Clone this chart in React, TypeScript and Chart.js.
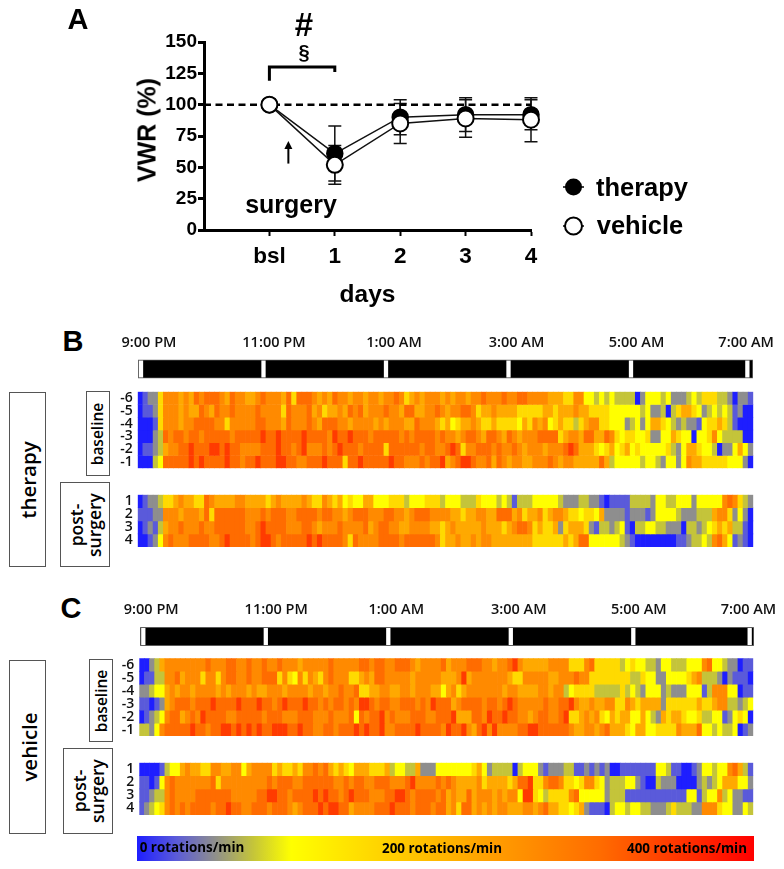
import React, { useEffect, useRef } from "react";
import { Chart, registerables } from "chart.js";

Chart.register(...registerables);

// ---------- Panel A data ----------
const dayLabels = ["bsl", "1", "2", "3", "4"];
const dayPositions = [0, 1, 2, 3, 4];
const therapyMeans = [100, 61, 90, 92, 92];
const therapyErrors = [0, 22, 14, 13.5, 12];
const vehicleMeans = [100, 52, 85, 89, 88];
const vehicleErrors = [0, 15.5, 16, 15, 17.5];
const referenceX = [-1, 4];
const referenceY = [100, 100];
const bracketX = [0, 0, 1, 1];
const bracketY = [119, 130, 130, 126];

// ---------- Heat map data ----------
// Each digit is one 5-minute bin; levelValues turns it into rotations/min.
const levelValues = [0, 25, 50, 75, 100, 150, 215, 258, 300, 345];
const baselineLabels = ["-6", "-5", "-4", "-3", "-2", "-1"];
const postLabels = ["1", "2", "3", "4"];

const therapyBaseline = [
  "0122577767 6878887687 7667877768 5888767687 7677677677 8756767776 7677677877 7877887777 6665577443 4343333024 4434222343 5553320221",
  "0112577767 6687687787 7778777758 7778675667 6878677787 7688667787 6778875667 6666555556 6566676655 5544444434 2230356654 2343431200",
  "0001577767 7888877577 7778877768 7778768887 7677776767 7766877765 6456676556 5555465767 4565535677 5544423424 6654323221 4556531000",
  "0002387887 8878888878 8888988988 8898888798 8988878888 8787888878 7767887688 7687677788 8856776886 6875455445 2244654404 4574333300",
  "0112367788 9888998988 7777888988 7897778789 8887888858 8888878877 8985778887 8778767776 7778986665 4564564544 4445324665 4430224642",
  "0003488888 9898888988 7889888998 8778889888 5889888889 8877787889 6789987786 8767766777 8767766666 8634444434 4324424766 5555544420",
];
const therapyPost = [
  "0122355676 6558766667 7666656766 6676557656 4544664445 5534445553 4443335444 3431333444 4432223322 1011113333 2443344424 4444787532",
  "1112277767 7768588888 8777878887 7888878877 6788877788 7767888777 7665667766 8886756675 6776554554 6222212221 2444432223 3367752420",
  "0121367787 7787788888 8778988887 7788767778 7777867887 7667777665 6766666766 6567887565 5625666521 3323410334 4332220332 3456563310",
  "0012478777 8888778988 8878998788 8889898888 7587777888 8788888875 6676676776 6666666555 5556568844 4444321000 0000011233 4378641210",
];
const vehicleBaseline = [
  "0023677777 7778777887 7877877877 7677777877 7778878877 8887677778 6777888776 7789766666 7777555785 5555345443 3244333444 7844322011",
  "0113377867 7757757887 7877888575 4757657877 7556768877 7776777776 6679677777 7765577777 6677787755 5555553354 4224444567 3332021110",
  "2234467677 6777767677 7676677767 7776776778 7785566776 6776777664 6756777777 7677666677 6773455553 3333534324 4423222444 1377744011",
  "1101267888 7888988889 8889887898 8898878788 7879987887 7888787988 8678888788 7898777778 7788976676 6775576566 6625555556 5567733234",
  "0123478867 8798888778 8888788877 7888777877 7848788978 7778887788 8966688798 8988776788 7789556767 5465664464 3265665445 3344124540",
  "3324788888 9887889989 8989889998 8988778878 8898988977 8888988887 9889768979 7777889988 8888766776 7866654664 4555576668 4434334012",
];
const vehiclePost = [
  "0000134467 6655776677 4677775655 6577878656 5466655563 4433622244 4444456423 3330344421 2223311212 1200111111 1443110012 4434478631",
  "1101478777 7777857777 7777787888 7788888877 8788778887 7789777787 8766667566 6656889557 8875545775 4233344210 0322200002 3234666442",
  "1123378777 7888888877 7778899887 8888989887 8988877788 9987888878 6766867776 7677499543 5555784444 4233311111 1111111441 3447342211",
  "1234578787 8888788988 7788878887 6788898998 8677778889 8887888788 6758867676 7766677678 6655456211 1034434433 2223533322 7775442243",
];

// ---------- Time bar data ----------
const timeLabels = ["9:00 PM", "11:00 PM", "1:00 AM", "3:00 AM", "5:00 AM", "7:00 AM"];
const timeLabelHours = [0.13, 2.17, 4.13, 6.13, 8.09, 9.88];
const timeMarkerHours = [0, 2, 4, 6, 8, 9.9];

// ---------- Colour scale data ----------
const scaleValues = [0, 25, 50, 75, 100, 200, 300, 400];
const scaleColors = ["#1e1eff", "#5a5ada", "#8e8e8e", "#c4c43a", "#ffff00", "#ffb400", "#ff6c00", "#ff0000"];
const scaleTexts = ["0 rotations/min", "200 rotations/min", "400 rotations/min"];

const SANS = "'Liberation Sans', Arial, sans-serif";
const OPEN = "'Open Sans', sans-serif";

function hexToRgb(h: string) {
  return [1, 3, 5].map((i) => parseInt(h.slice(i, i + 2), 16));
}

function valueColor(v: number) {
  for (let i = 1; i < scaleValues.length; i++) {
    if (v <= scaleValues[i]) {
      const t = (v - scaleValues[i - 1]) / (scaleValues[i] - scaleValues[i - 1]);
      const a = hexToRgb(scaleColors[i - 1]);
      const b = hexToRgb(scaleColors[i]);
      const c = a.map((x, k) => Math.round(x + (b[k] - x) * t));
      return `rgb(${c[0]},${c[1]},${c[2]})`;
    }
  }
  return scaleColors[scaleColors.length - 1];
}

function parseRow(row: string) {
  return row
    .replace(/\s/g, "")
    .split("")
    .map((d) => levelValues[Number(d)]);
}

function noAutoPadding(s: any) {
  s.paddingLeft = 0;
  s.paddingRight = 0;
  s.paddingTop = 0;
  s.paddingBottom = 0;
}

function useChart(build: () => any) {
  const ref = useRef<HTMLCanvasElement | null>(null);
  useEffect(() => {
    const chart = new Chart(ref.current as HTMLCanvasElement, build());
    return () => chart.destroy();
  }, []);
  return ref;
}

const baseOptions = {
  responsive: false,
  animation: false,
  devicePixelRatio: 1,
  events: [],
};

// ---------- Panel A ----------
const errorBarsPlugin = {
  id: "errorBars",
  beforeDatasetsDraw(chart: any) {
    const { ctx, scales } = chart;
    const series = [
      [therapyMeans, therapyErrors],
      [vehicleMeans, vehicleErrors],
    ];
    ctx.save();
    ctx.strokeStyle = "#111";
    ctx.lineWidth = 1.5;
    series.forEach(([means, errs]) => {
      means.forEach((m: number, i: number) => {
        if (!errs[i]) return;
        const x = scales.x.getPixelForValue(dayPositions[i]);
        const hi = scales.y.getPixelForValue(m + errs[i]);
        const lo = scales.y.getPixelForValue(m - errs[i]);
        ctx.beginPath();
        ctx.moveTo(x, hi);
        ctx.lineTo(x, lo);
        ctx.moveTo(x - 6.5, hi);
        ctx.lineTo(x + 6.5, hi);
        ctx.moveTo(x - 6.5, lo);
        ctx.lineTo(x + 6.5, lo);
        ctx.stroke();
      });
    });
    ctx.restore();
  },
  afterDraw(chart: any) {
    const { ctx, scales } = chart;
    // surgery arrow
    const ax = scales.x.getPixelForValue(0.29);
    const top = scales.y.getPixelForValue(71);
    const bot = scales.y.getPixelForValue(53);
    ctx.save();
    ctx.strokeStyle = "#000";
    ctx.fillStyle = "#000";
    ctx.lineWidth = 2;
    ctx.beginPath();
    ctx.moveTo(ax, bot);
    ctx.lineTo(ax, top + 4);
    ctx.stroke();
    ctx.beginPath();
    ctx.moveTo(ax, top);
    ctx.lineTo(ax - 4, top + 8);
    ctx.lineTo(ax + 4, top + 8);
    ctx.closePath();
    ctx.fill();
    // legend symbols
    ctx.lineWidth = 1.5;
    ctx.beginPath();
    ctx.moveTo(563, 187);
    ctx.lineTo(584, 187);
    ctx.stroke();
    ctx.beginPath();
    ctx.arc(573.5, 187, 8.5, 0, Math.PI * 2);
    ctx.fill();
    ctx.beginPath();
    ctx.moveTo(563, 226);
    ctx.lineTo(584, 226);
    ctx.stroke();
    ctx.beginPath();
    ctx.fillStyle = "#fff";
    ctx.lineWidth = 2;
    ctx.arc(573.5, 226, 8.5, 0, Math.PI * 2);
    ctx.fill();
    ctx.stroke();
    ctx.restore();
  },
};

function LineChart() {
  const ref = useChart(() => {
    const xy = (xs: number[], ys: number[]) => xs.map((x, i) => ({ x, y: ys[i] }));
    return {
      type: "line",
      data: {
        datasets: [
          {
            label: "vehicle",
            data: xy(dayPositions, vehicleMeans),
            borderColor: "#111",
            borderWidth: 1.5,
            pointRadius: 8,
            pointBorderWidth: 2,
            pointBackgroundColor: "#fff",
            pointBorderColor: "#000",
            clip: false,
          },
          {
            label: "therapy",
            data: xy(dayPositions, therapyMeans),
            borderColor: "#111",
            borderWidth: 1.5,
            pointRadius: 8,
            pointBackgroundColor: "#000",
            pointBorderColor: "#000",
            clip: false,
          },
          {
            label: "bracket",
            data: xy(bracketX, bracketY),
            borderColor: "#000",
            borderWidth: 3,
            pointRadius: 0,
            clip: false,
          },
          {
            label: "baseline",
            data: xy(referenceX, referenceY),
            borderColor: "#000",
            borderWidth: 2.5,
            borderDash: [7, 4.5],
            pointRadius: 0,
            clip: false,
          },
        ],
      },
      options: {
        ...baseOptions,
        layout: { padding: { left: 130, right: 253, top: 42, bottom: 0 } },
        plugins: { legend: { display: false }, tooltip: { enabled: false } },
        scales: {
          x: {
            type: "linear",
            min: -1,
            max: 4,
            afterFit: (s: any) => {
              s.height = 90;
              noAutoPadding(s);
            },
            afterBuildTicks: (s: any) => {
              s.ticks = dayPositions.map((value) => ({ value }));
            },
            border: { color: "#000", width: 3 },
            grid: { drawOnChartArea: false, color: "#000", tickColor: "#000", tickWidth: 2, tickLength: 6 },
            title: {
              display: true,
              text: "days",
              color: "#000",
              font: { family: SANS, size: 24.5, weight: "bold" },
              padding: { top: 0, bottom: 10 },
            },
            ticks: {
              color: "#000",
              padding: 7,
              maxRotation: 0,
              autoSkip: false,
              font: { family: SANS, size: 22.5, weight: "bold" },
              callback: (v: number) => dayLabels[dayPositions.indexOf(v)],
            },
          },
          y: {
            type: "linear",
            min: 0,
            max: 150,
            afterFit: (s: any) => {
              s.width = 74;
              noAutoPadding(s);
            },
            border: { color: "#000", width: 3 },
            grid: { drawOnChartArea: false, color: "#000", tickColor: "#000", tickWidth: 3, tickLength: 6 },
            ticks: {
              stepSize: 25,
              color: "#000",
              padding: 1,
              font: { family: SANS, size: 19, weight: "bold" },
            },
          },
        },
      },
      plugins: [errorBarsPlugin],
    };
  });
  return <canvas ref={ref} width={784} height={320} style={{ position: "absolute", left: 0, top: 0 }} />;
}

// ---------- Heat maps ----------
function Heatmap(props: { rows: string[]; labels: string[]; left: number; right: number; top: number; bottom: number }) {
  const { rows, labels, left, right, top, bottom } = props;
  const cLeft = Math.floor(left) - 30;
  const cTop = Math.floor(top) - 2;
  const cW = Math.ceil(right) + 2 - cLeft;
  const cH = Math.ceil(bottom) + 2 - cTop;
  const ref = useChart(() => {
    const values = rows.map(parseRow);
    return {
      type: "bar",
      data: {
        labels: values[0].map((_, i) => String(i)),
        datasets: values.map((row, r) => ({
          label: labels[r],
          data: row.map(() => [r, r + 1]),
          backgroundColor: row.map(valueColor),
          borderWidth: 0,
          grouped: false,
          barPercentage: 1,
          categoryPercentage: 1,
        })),
      },
      options: {
        ...baseOptions,
        layout: {
          padding: { left: 0, top: top - cTop, bottom: cTop + cH - bottom, right: cLeft + cW - right },
        },
        plugins: { legend: { display: false }, tooltip: { enabled: false } },
        scales: {
          x: { display: false, offset: true, grid: { display: false } },
          y: {
            type: "linear",
            reverse: true,
            min: 0,
            max: labels.length,
            afterFit: (s: any) => {
              s.width = left - cLeft;
              noAutoPadding(s);
            },
            afterBuildTicks: (s: any) => {
              s.ticks = labels.map((_, i) => ({ value: i + 0.5 }));
            },
            border: { display: false },
            grid: { display: false, drawTicks: false },
            ticks: {
              color: "#111",
              padding: 5,
              autoSkip: false,
              font: { family: OPEN, size: 14, weight: "600" },
              callback: (v: number) => labels[Math.floor(v)],
            },
          },
        },
      },
    };
  });
  return (
    <canvas
      ref={ref}
      width={cW}
      height={cH}
      style={{ position: "absolute", left: cLeft, top: cTop, filter: "blur(0.7px)" }}
    />
  );
}

function TimeBar(props: { left: number; right: number; top: number; bottom: number; originX: number; pxPerHour: number }) {
  const { left, right, top, bottom, originX, pxPerHour } = props;
  const cLeft = Math.floor(left) - 30;
  const cW = 784 - cLeft;
  const cTop = Math.floor(top) - 29;
  const cH = Math.ceil(bottom) + 2 - cTop;
  const ref = useChart(() => {
    const hourAt = (px: number) => (px - originX) / pxPerHour;
    return {
      type: "bar",
      data: {
        labels: ["night"],
        datasets: [
          ...timeMarkerHours.map((h) => ({
            label: "marker",
            data: [[h - 0.035, h + 0.035]],
            backgroundColor: "#fff",
            borderWidth: 0,
            grouped: false,
            barPercentage: 0.9,
            categoryPercentage: 1,
          })),
          {
            label: "dark phase",
            data: [[hourAt(left), hourAt(right)]],
            backgroundColor: "#000",
            borderColor: "#777",
            borderWidth: 1,
            borderSkipped: false,
            grouped: false,
            barPercentage: 1,
            categoryPercentage: 1,
          },
        ],
      },
      options: {
        ...baseOptions,
        indexAxis: "y",
        layout: {
          padding: { left: left - cLeft, right: cLeft + cW - right, top: 0, bottom: cTop + cH - bottom },
        },
        plugins: { legend: { display: false }, tooltip: { enabled: false } },
        scales: {
          y: { display: false },
          x: {
            type: "linear",
            position: "top",
            min: hourAt(left),
            max: hourAt(right),
            afterFit: (s: any) => {
              s.height = top - cTop;
              noAutoPadding(s);
            },
            afterBuildTicks: (s: any) => {
              s.ticks = timeLabelHours.map((value) => ({ value }));
            },
            border: { display: false },
            grid: { display: false, drawTicks: false },
            ticks: {
              color: "#111",
              padding: 8,
              autoSkip: false,
              maxRotation: 0,
              font: { family: OPEN, size: 14.5, weight: "600" },
              callback: (v: number) => timeLabels[timeLabelHours.indexOf(v)],
            },
          },
        },
      },
    };
  });
  return <canvas ref={ref} width={cW} height={cH} style={{ position: "absolute", left: cLeft, top: cTop }} />;
}

function ColorBar() {
  const ref = useChart(() => ({
    type: "bar",
    data: {
      labels: ["scale"],
      datasets: [
        {
          label: "rotations/min",
          data: [[scaleValues[0], scaleValues[scaleValues.length - 1]]],
          borderWidth: 0,
          barPercentage: 1,
          categoryPercentage: 1,
          backgroundColor: (c: any) => {
            const area = c.chart.chartArea;
            if (!area) return "#000";
            const g = c.chart.ctx.createLinearGradient(area.left, 0, area.right, 0);
            scaleValues.forEach((v, i) => g.addColorStop(v / 400, scaleColors[i]));
            return g;
          },
        },
      ],
    },
    options: {
      ...baseOptions,
      indexAxis: "y",
      layout: { padding: 0 },
      plugins: { legend: { display: false }, tooltip: { enabled: false } },
      scales: {
        y: { display: false },
        x: { display: false, type: "linear", min: 0, max: 400 },
      },
    },
  }));
  return <canvas ref={ref} width={617} height={25} style={{ position: "absolute", left: 137, top: 836, filter: "blur(0.4px)" }} />;
}

// ---------- Text and boxes ----------
function Label(props: {
  x: number;
  y: number;
  text: string;
  size: number;
  family?: string;
  weight?: number | string;
  rotate?: number;
  align?: string;
}) {
  const { x, y, text, size, family = SANS, weight = 700, rotate = 0, align = "center" } = props;
  return (
    <div
      style={{
        position: "absolute",
        left: x,
        top: y,
        transform: `translate(-50%,-50%) rotate(${rotate}deg)`,
        font: `${weight} ${size}px ${family}`,
        lineHeight: 1,
        whiteSpace: "pre",
        textAlign: align as any,
        color: "#000",
      }}
    >
      {text}
    </div>
  );
}

function Box(props: { left: number; top: number; right: number; bottom: number }) {
  const { left, top, right, bottom } = props;
  return (
    <div
      style={{
        position: "absolute",
        left,
        top,
        width: right - left,
        height: bottom - top,
        boxSizing: "border-box",
        border: "1.5px solid #555",
        background: "#fff",
      }}
    />
  );
}

export default function App() {
  return (
    <div
      style={{
        position: "absolute",
        left: 0,
        top: 0,
        width: 784,
        height: 869,
        overflow: "hidden",
        background: "#fff",
      }}
    >
      <LineChart />
      <Label x={78} y={19} text="A" size={29} />
      <Label x={304} y={24} text="#" size={33} />
      <Label x={304} y={52} text="§" size={20} />
      <Label x={147} y={130} text="VWR (%)" size={25} rotate={-90} />
      <Label x={291} y={204} text="surgery" size={25} />
      <Label x={642} y={188} text="therapy" size={25.5} />
      <Label x={640} y={226} text="vehicle" size={25.5} />

      {/* Panel B */}
      <Label x={73} y={341} text="B" size={29} />
      <TimeBar left={138} right={753} top={359.5} bottom={378.5} originX={141} pxPerHour={61.25} />
      <Box left={9} top={392} right={46} bottom={567} />
      <Box left={86} top={391} right={110} bottom={476} />
      <Box left={60} top={482} right={110} bottom={567} />
      <Label x={28} y={480} text="therapy" size={20.5} family={OPEN} weight={600} rotate={-90} />
      <Label x={98} y={434} text="baseline" size={15.5} family={OPEN} weight={600} rotate={-90} />
      <Label x={85} y={525} text={"post-\nsurgery"} size={17.5} family={OPEN} weight={600} rotate={-90} />
      <Heatmap rows={therapyBaseline} labels={baselineLabels} left={137.7} right={753.3} top={391.7} bottom={468.3} />
      <Heatmap rows={therapyPost} labels={postLabels} left={137.7} right={753.3} top={494.7} bottom={547} />

      {/* Panel C */}
      <Label x={71} y={608} text="C" size={29} />
      <TimeBar left={140} right={754} top={627} bottom={646} originX={143.3} pxPerHour={61.25} />
      <Box left={9} top={660} right={46} bottom={834} />
      <Box left={89} top={659} right={113} bottom={742} />
      <Box left={63} top={748} right={113} bottom={834} />
      <Label x={29} y={747} text="vehicle" size={20.5} family={OPEN} weight={600} rotate={-90} />
      <Label x={102} y={701} text="baseline" size={15.5} family={OPEN} weight={600} rotate={-90} />
      <Label x={88} y={791} text={"post-\nsurgery"} size={17.5} family={OPEN} weight={600} rotate={-90} />
      <Heatmap rows={vehicleBaseline} labels={baselineLabels} left={139.3} right={753.3} top={658.3} bottom={736} />
      <Heatmap rows={vehiclePost} labels={postLabels} left={139.3} right={753.3} top={762.7} bottom={815} />

      <ColorBar />
      <Label x={192} y={848} text={scaleTexts[0]} size={13.4} family={OPEN} weight={700} />
      <Label x={442} y={849} text={scaleTexts[1]} size={13.4} family={OPEN} weight={700} />
      <Label x={687} y={849} text={scaleTexts[2]} size={13.4} family={OPEN} weight={700} />
    </div>
  );
}
